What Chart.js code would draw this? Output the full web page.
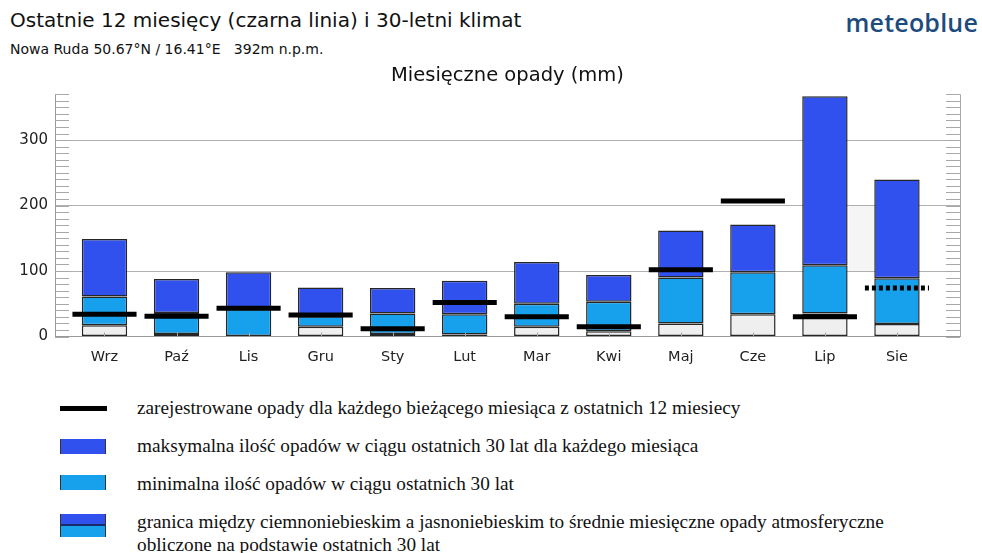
<!DOCTYPE html>
<html lang="pl">
<head>
<meta charset="utf-8">
<title>Miesięczne opady – Nowa Ruda</title>
<script src="https://cdn.jsdelivr.net/npm/chart.js@4.4.1/dist/chart.umd.min.js"></script>
<style>
  html, body { margin: 0; padding: 0; background: #fff; }
  body { width: 982px; height: 553px; position: relative; overflow: hidden;
         font-family: "DejaVu Sans", sans-serif; color: #111; }
  #title { position: absolute; left: 10px; top: 8px; font-size: 20px; white-space: nowrap; }
  #place { position: absolute; left: 10px; top: 41px; font-size: 14px; white-space: nowrap; }
  #logo { position: absolute; right: 4px; top: 5px; font-family: "Open Sans", sans-serif;
          font-weight: 600; font-size: 25px; color: #1d4b7d; letter-spacing: 0.2px; }
  #chartBox { position: absolute; left: 0; top: 0; width: 982px; height: 380px; }
  .sym { position: absolute; left: 60px; }
  .txt { position: absolute; left: 137px; font-family: "Liberation Serif", serif;
         font-size: 19.25px; line-height: 23px; white-space: nowrap; color: #111; }
  .line { width: 47px; height: 5px; background: #000; }
  .box { width: 44px; height: 15px; border-left: 1.5px solid #333; border-right: 1.5px solid #333; }
  .dark { background: #3151ef; }
  .light { background: #17a1ec; }
  .mix { width: 44px; height: 23px; border-left: 1.5px solid #333; border-right: 1.5px solid #333;
         background: linear-gradient(#3151ef 0 10px, #1b2a6b 10px 12px, #17a1ec 12px 23px); }
</style>
</head>
<body>
<div id="title">Ostatnie 12 miesięcy (czarna linia) i 30-letni klimat</div>
<div id="place">Nowa Ruda 50.67°N / 16.41°E &nbsp;&nbsp;392m n.p.m.</div>
<div id="logo">meteoblue</div>
<div id="chartBox"><canvas id="precipChart"></canvas></div>

<div class="sym line" style="top: 406px;"></div>
<div class="txt" style="top: 396px;">zarejestrowane opady dla każdego bieżącego miesiąca z ostatnich 12 miesiecy</div>
<div class="sym box dark" style="top: 439px;"></div>
<div class="txt" style="top: 434px;">maksymalna ilość opadów w ciągu ostatnich 30 lat dla każdego miesiąca</div>
<div class="sym box light" style="top: 475px;"></div>
<div class="txt" style="top: 472px;">minimalna ilość opadów w ciągu ostatnich 30 lat</div>
<div class="sym mix" style="top: 514px;"></div>
<div class="txt" style="top: 510px;">granica między ciemnoniebieskim a jasnoniebieskim to średnie miesięczne opady atmosferyczne<br>obliczone na podstawie ostatnich 30 lat</div>

<script>
// monthly precipitation, mm
const months = ['Wrz', 'Paź', 'Lis', 'Gru', 'Sty', 'Lut', 'Mar', 'Kwi', 'Maj', 'Cze', 'Lip', 'Sie'];
const maxPrecip = [149, 88, 98, 75, 74, 85, 114, 94, 162, 171, 367, 240];
const meanPrecip = [61, 36, 42, 31, 35, 34, 50, 53, 90, 98, 109, 89];
const minPrecip = [17, 4, 0, 15, 4, 3, 15, 8, 20, 34, 35, 19];
const recorded = [34, 31, 43, 33, 12, 52, 30, 15, 102, 207, 30, 74];
const partialMonth = 11;            // current month, not finished yet -> dotted
const yLabels = [0, 100, 200, 300];
const shadedBand = { from: 10.33, to: 11, low: 100, high: 200 };

const DARK = '#3151ef';
const LIGHT = '#17a1ec';
const GREY = '#efefef';

// black marker: a short horizontal segment over each month
const half = 0.445;
const recordedPoints = [];
recorded.forEach((v, i) => {
  recordedPoints.push({ x: i - half, y: v }, { x: i + half, y: v }, { x: i + half, y: null });
});

const barStyle = {
  type: 'bar',
  borderColor: '#262626',
  borderWidth: 1.5,
  borderSkipped: false,
  barPercentage: 0.63,
  categoryPercentage: 1,
  grouped: false,
  order: 1
};

const floating = (lo, hi) => months.map((_, i) => ({ x: i, y: [lo[i], hi[i]] }));
const zeros = months.map(() => 0);

// ruler ticks on both sides, small x ticks and the right frame line
const rulerPlugin = {
  id: 'ruler',
  beforeDraw(chart) {
    const { ctx, scales: { x, y } } = chart;
    const x0 = x.getPixelForValue(shadedBand.from), x1 = x.getPixelForValue(shadedBand.to);
    const y0 = y.getPixelForValue(shadedBand.high), y1 = y.getPixelForValue(shadedBand.low);
    ctx.save();
    ctx.fillStyle = '#f5f5f5';
    ctx.fillRect(x0, y0, x1 - x0, y1 - y0);
    ctx.restore();
  },
  afterDatasetsDraw(chart) {
    const { ctx, chartArea: a, scales: { x, y } } = chart;
    ctx.save();
    ctx.strokeStyle = '#a8a8a8';
    ctx.lineWidth = 1;
    ctx.beginPath();
    y.ticks.forEach(t => {
      const py = Math.round(y.getPixelForValue(t.value)) + 0.5;
      ctx.moveTo(a.left, py); ctx.lineTo(a.left + 14, py);
      ctx.moveTo(a.right - 14, py); ctx.lineTo(a.right, py);
    });
    x.ticks.forEach(t => {
      const px = Math.round(x.getPixelForValue(t.value)) + 0.5;
      ctx.moveTo(px, a.bottom); ctx.lineTo(px, a.bottom - 4);
    });
    ctx.moveTo(Math.round(a.right) + 0.5, a.top);
    ctx.lineTo(Math.round(a.right) + 0.5, a.bottom);
    ctx.stroke();
    ctx.restore();
  }
};

new Chart(document.getElementById('precipChart'), {
  type: 'bar',
  data: {
    datasets: [
      {
        type: 'line',
        label: 'zarejestrowane opady',
        data: recordedPoints,
        borderColor: '#000',
        borderWidth: 5,
        borderCapStyle: 'butt',
        pointRadius: 0,
        spanGaps: false,
        order: 0,
        segment: {
          borderDash: c => (c.p0.parsed.x > partialMonth - 0.5 ? [4, 3] : undefined)
        }
      },
      { ...barStyle, label: 'poniżej minimum', data: floating(zeros, minPrecip), backgroundColor: GREY },
      { ...barStyle, label: 'minimum – średnia', data: floating(minPrecip, meanPrecip), backgroundColor: LIGHT },
      { ...barStyle, label: 'średnia – maksimum', data: floating(meanPrecip, maxPrecip), backgroundColor: DARK }
    ]
  },
  options: {
    responsive: true,
    maintainAspectRatio: false,
    animation: false,
    layout: { padding: { left: 0, right: 22, top: 0, bottom: 0 } },
    plugins: {
      legend: { display: false },
      tooltip: { enabled: false },
      title: {
        display: true,
        text: 'Miesięczne opady (mm)',
        fullSize: false,
        color: '#111',
        font: { family: 'DejaVu Sans', size: 19.5, weight: 'normal' },
        padding: { top: 64.3, bottom: 6.6 }
      }
    },
    scales: {
      x: {
        type: 'linear',
        offset: false,
        min: -0.687,
        max: 11.875,
        afterBuildTicks: s => { s.ticks = months.map((_, i) => ({ value: i })); },
        afterFit: s => { s.height = 43.5; },
        ticks: {
          callback: v => months[v],
          autoSkip: false,
          maxRotation: 0,
          padding: 12,
          color: '#222',
          font: { family: 'DejaVu Sans', size: 14.5 }
        },
        grid: { display: false, drawTicks: false, offset: false },
        border: { display: true, color: '#999', width: 1 }
      },
      y: {
        min: 0,
        max: 370,
        afterFit: s => { s.width = 55; },
        ticks: {
          stepSize: 10,
          autoSkip: false,
          padding: 7,
          color: '#222',
          font: { family: 'DejaVu Sans', size: 15 },
          callback: v => (yLabels.includes(v) ? v : '')
        },
        grid: {
          drawTicks: false,
          color: c => (c.tick && c.tick.value % 100 === 0 && c.tick.value > 0 ? '#b0b0b0' : 'rgba(0,0,0,0)')
        },
        border: { color: '#999', width: 1 }
      }
    }
  },
  plugins: [rulerPlugin]
});
</script>
</body>
</html>
